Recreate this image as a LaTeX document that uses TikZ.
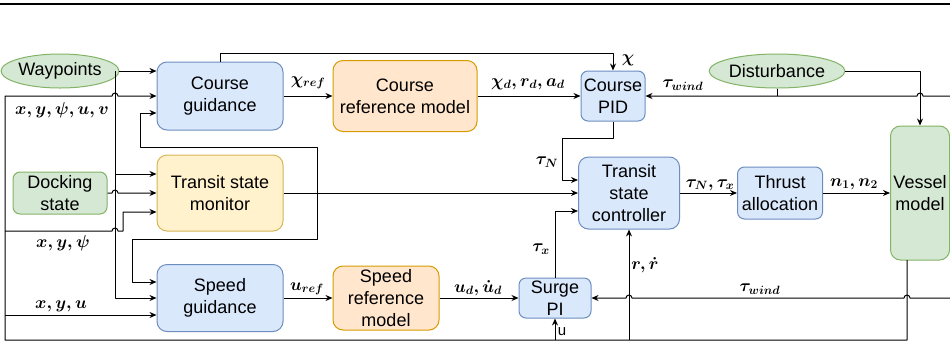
\documentclass[tikz,border=0pt]{standalone}
\usepackage[no-math]{fontspec}
\setmainfont{Liberation Sans}
\usepackage{amsmath}
\usetikzlibrary{arrows.meta,shapes.geometric}
\definecolor{bluefill}{HTML}{DAE8FC}
\definecolor{blueline}{HTML}{6C8EBF}
\definecolor{orgfill}{HTML}{FFE6CC}
\definecolor{orgline}{HTML}{D79B00}
\definecolor{yelfill}{HTML}{FFF2CC}
\definecolor{yelline}{HTML}{D6B656}
\definecolor{grnfill}{HTML}{D5E8D4}
\definecolor{grnline}{HTML}{82B366}
\begin{document}
\begin{tikzpicture}[x=1pt,y=-1pt,line width=1pt,line join=round,>={Stealth[length=7pt,width=6pt]},
  box/.style={draw,rounded corners=10pt,align=center,inner sep=1pt,font=\fontsize{18}{22}\selectfont},
  ctrl/.style={box,draw=blueline,fill=bluefill},
  refm/.style={box,draw=orgline,fill=orgfill},
  mon/.style={box,draw=yelline,fill=yelfill},
  plant/.style={box,draw=grnline,fill=grnfill},
  src/.style={ellipse,draw=grnline,fill=grnfill,inner sep=0pt,font=\fontsize{18}{22}\selectfont},
  lbl/.style={inner sep=0pt,font=\fontsize{17}{20}\selectfont}]
\useasboundingbox (0,0) rectangle (950,341);
\draw[line width=1.5pt] (0,4) -- (950,4);

\node[src,minimum width=94pt,minimum height=34pt] (wp) at (60,71) {Waypoints};
\node[src,minimum width=127pt,minimum height=34pt] (dist) at (777,71) {Disturbance};
\node[plant,rounded corners=7pt,minimum width=94pt,minimum height=42pt] (dock) at (60,193) {Docking\\state};
\node[ctrl,minimum width=126pt,minimum height=68pt] (cg) at (220,96) {Course\\guidance};
\node[mon,minimum width=126pt,minimum height=76pt] (tsm) at (220,193) {Transit state\\monitor};
\node[ctrl,minimum width=126pt,minimum height=67pt] (sg) at (220,298) {Speed\\guidance};
\node[refm,minimum width=144pt,minimum height=71pt] (crm) at (405,96) {Course\\reference model};
\node[refm,minimum width=106pt,minimum height=64pt] (srm) at (386,298) {Speed\\reference\\model};
\node[ctrl,rounded corners=7pt,minimum width=64pt,minimum height=50pt] (pid) at (613,96) {Course\\PID};
\node[ctrl,minimum width=101pt,minimum height=72pt] (tsc) at (629,193) {Transit\\state\\controller};
\node[ctrl,rounded corners=7pt,minimum width=72pt,minimum height=40pt] (spi) at (555,298) {Surge\\PI};
\node[ctrl,rounded corners=7pt,minimum width=85pt,minimum height=52pt] (ta) at (780,193) {Thrust\\allocation};
\node[plant,minimum width=59pt,minimum height=134pt] (vm) at (920,193) {Vessel\\model};

\coordinate (wpj) at (115,71);
\coordinate (mj) at (317,193);
\coordinate (vmout) at (907,260);
\coordinate (bl) at (5,340);
\coordinate (dj) at (777,96);
\coordinate (wtop) at (950,96);
\coordinate (wbot) at (950,298);
\coordinate (uin) at (555,340);
\coordinate (rin) at (629,340);

\draw[->] (wp) -- ([yshift=25pt]cg.west);
\draw[->] (wpj) |- (sg.west);
\draw[->] (115,174) -- ([yshift=19pt]tsm.west);
\draw[->] (vmout) |- (bl) |- (112,96) arc (180:360:3) -- (cg.west);
\draw[->] (5,315) -- ([yshift=-17pt]sg.west);
\draw[->] (5,231) -- (112,231) arc (180:360:3) -- (123,231) |- ([yshift=-19pt]tsm.west);
\draw[->] (dock.east) -- (112,193) arc (180:360:3) -- (tsm.west);
\draw[->] (mj) |- (140,147) |- ([yshift=-17pt]cg.west);
\draw[->] (mj) |- (132,239) |- ([yshift=16pt]sg.west);
\draw[->] (tsm) -- (tsc);
\draw[->] (cg.north) |- (613,53) -- (pid.north);
\draw[->] (cg) -- (crm);
\draw[->] (crm) -- (pid);
\draw[->] (pid.south) |- (562,138) |- ([yshift=13pt]tsc.west);
\draw[->] (spi.north) |- ([yshift=-18pt]tsc.west);
\draw[->] (sg) -- (srm);
\draw[->] (srm) -- (spi);
\draw[->] (uin) -- (spi.south);
\draw[->] (rin) -- (tsc.south);
\draw[->] (tsc) -- (ta);
\draw[->] (ta) -- (vm);
\draw[->] (dist) -| (vm);
\draw (dist.south) -- (dj);
\draw[->] (wtop) -- (923,96) arc (0:-180:3) -- (pid.east);
\draw[->] (wbot) -- (910,298) arc (0:-180:3) -- (632,298) arc (0:-180:3) -- (spi.east);

\node[lbl] (lxyp) at (62,110) {$\boldsymbol{x,y,\psi,u,v}$};
\node[lbl] (lxypsi) at (63,243) {$\boldsymbol{x,y,\psi}$};
\node[lbl] (lxyu) at (61,306) {$\boldsymbol{x,y,u}$};
\node[lbl] (lchiref) at (308,83) {$\boldsymbol{\chi_{ref}}$};
\node[lbl] (lchid) at (528,84) {$\boldsymbol{\chi_d,r_d,a_d}$};
\node[lbl] (lchi) at (628,60) {$\boldsymbol{\chi}$};
\node[lbl] (lwtop) at (683,85) {$\boldsymbol{\tau_{wind}}$};
\node[lbl] (ltaun) at (547,162) {$\boldsymbol{\tau_N}$};
\node[lbl] (ltaux) at (541,249) {$\boldsymbol{\tau_x}$};
\node[lbl] (lr) at (645,265) {$\boldsymbol{r,\dot r}$};
\node[lbl,font=\fontsize{15}{18}\selectfont] (lu) at (562,332) {u};
\node[lbl] (luref) at (307,289) {$\boldsymbol{u_{ref}}$};
\node[lbl] (lud) at (478,288) {$\boldsymbol{u_d,\dot u_d}$};
\node[lbl] (lwbot) at (760,289) {$\boldsymbol{\tau_{wind}}$};
\node[lbl] (ltau) at (710,185) {$\boldsymbol{\tau_N,\tau_x}$};
\node[lbl] (ln) at (854,184) {$\boldsymbol{n_1,n_2}$};
\end{tikzpicture}
\end{document}
